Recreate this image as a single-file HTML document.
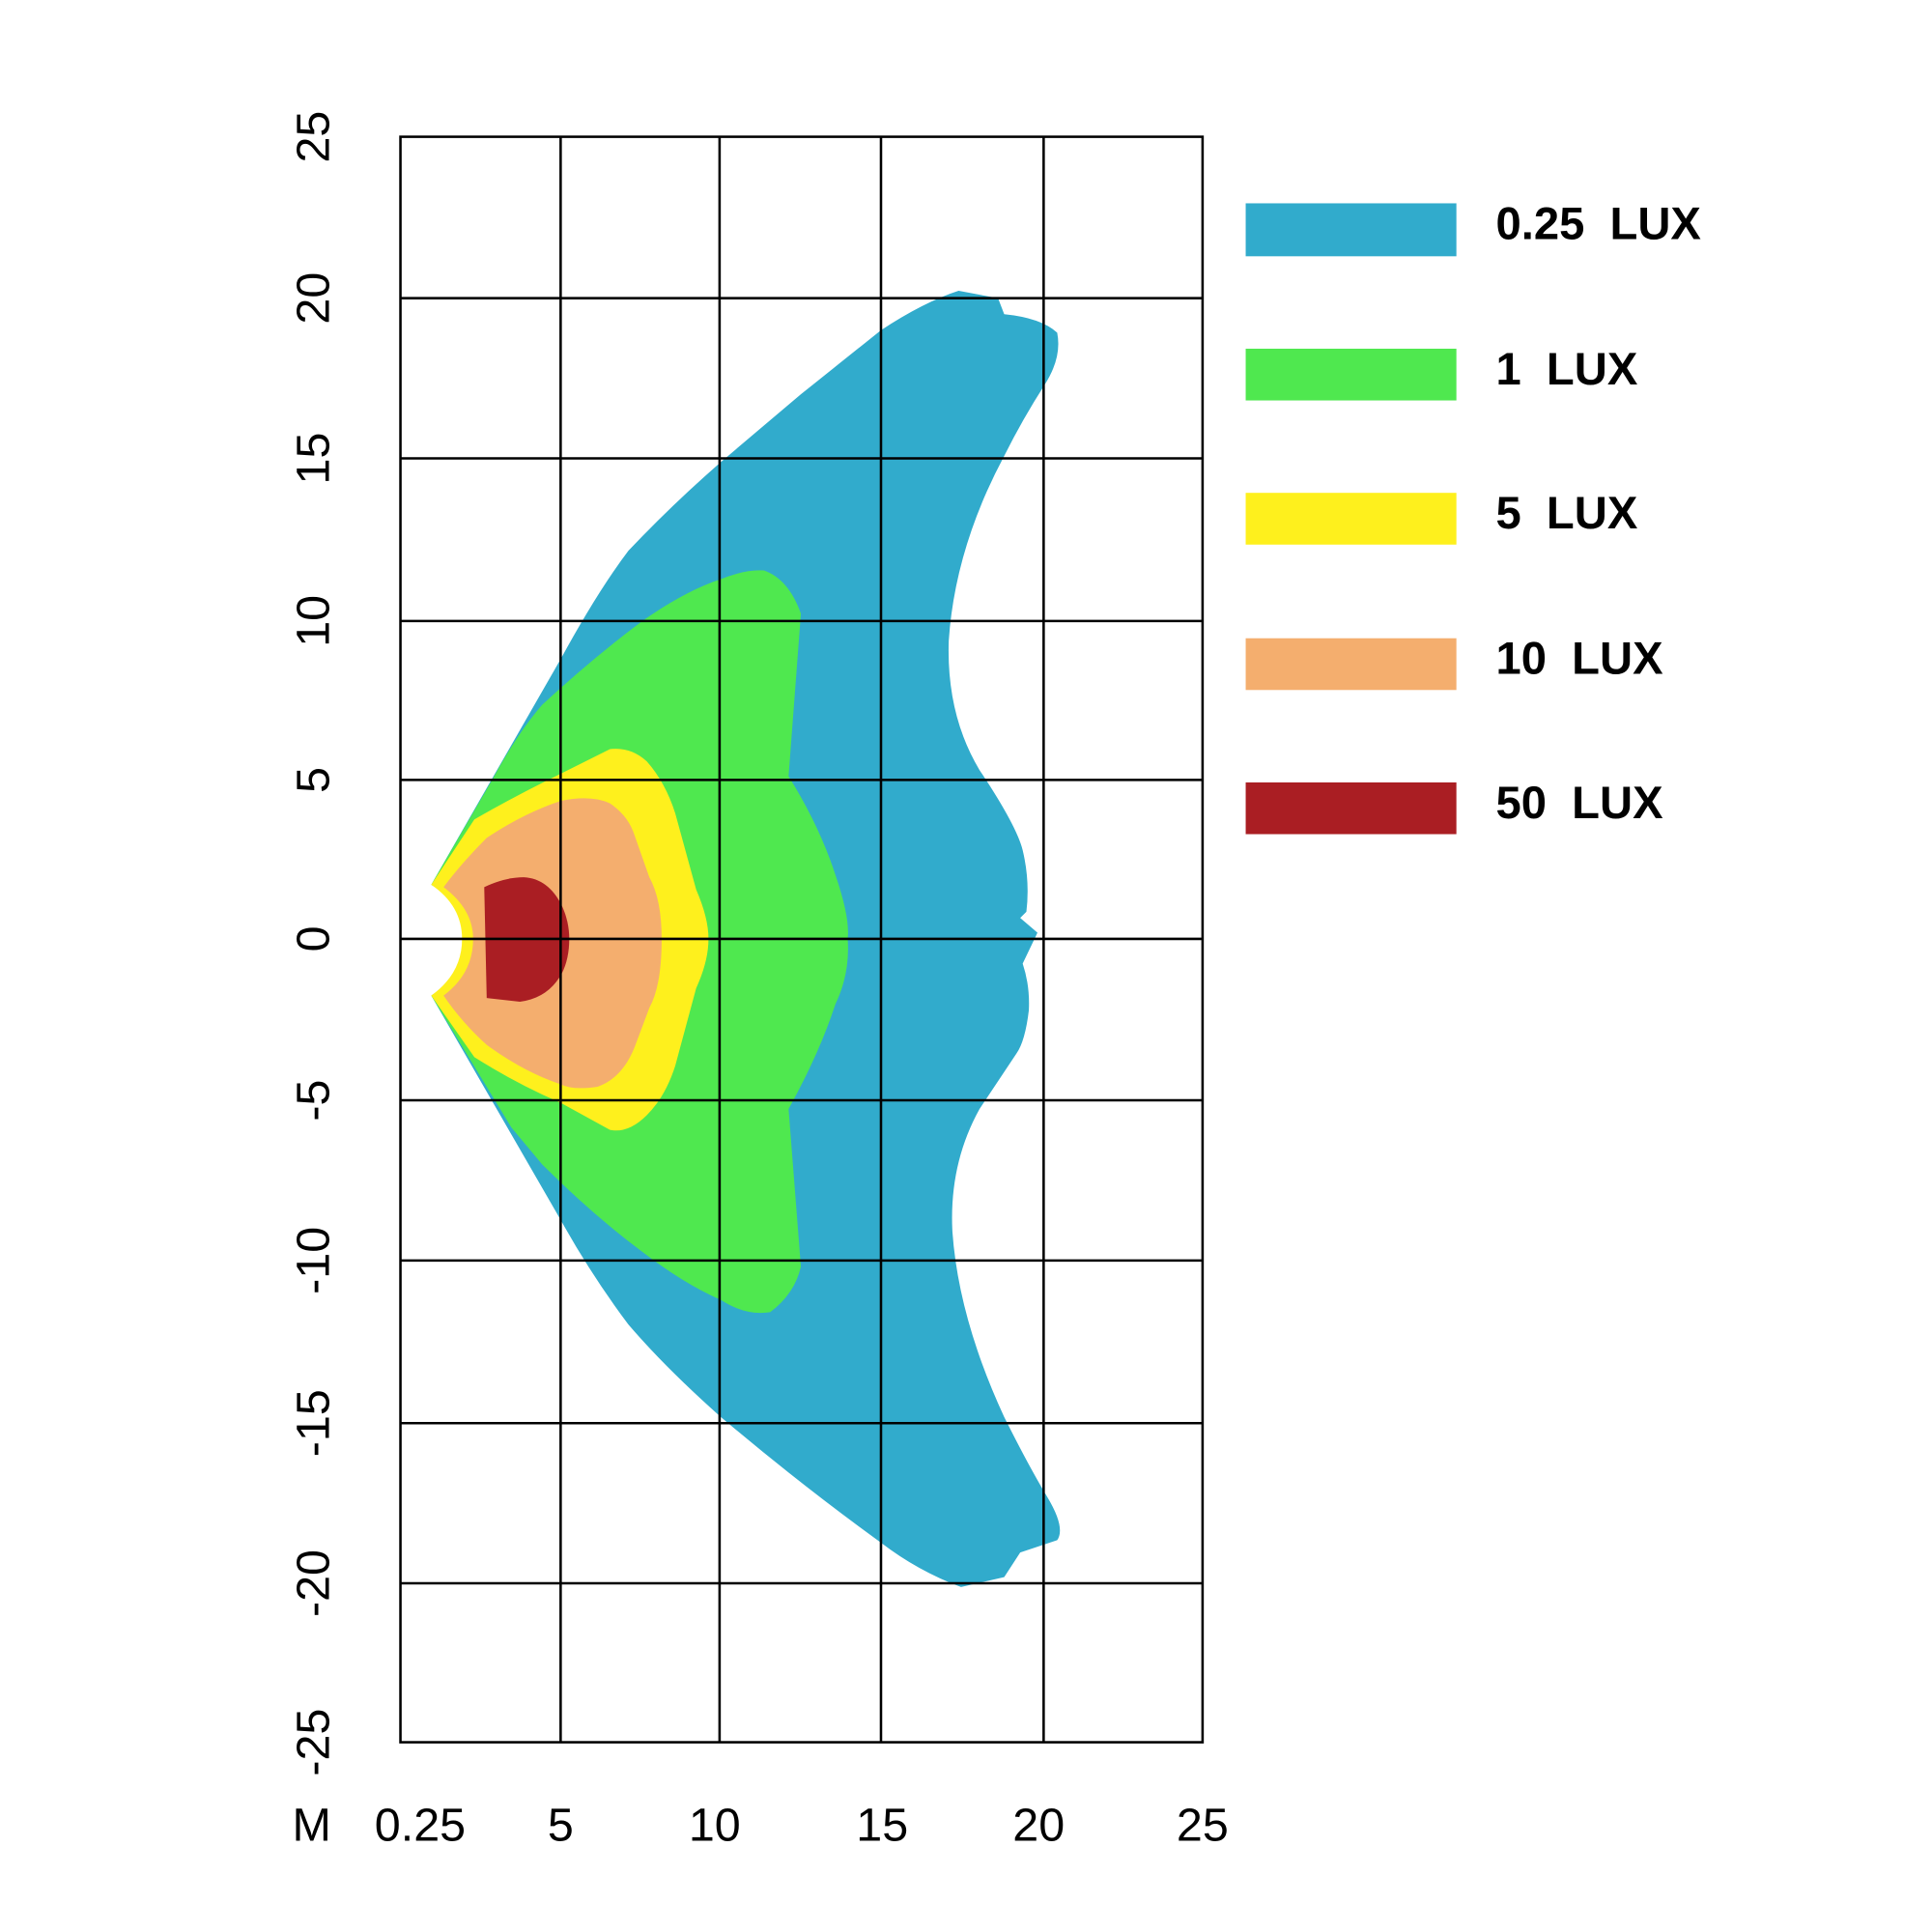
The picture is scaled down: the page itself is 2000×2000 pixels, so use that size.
<!DOCTYPE html>
<html><head><style>body{margin:0;background:#fff}svg{display:block}</style></head><body>
<svg width="2000" height="2000" viewBox="0 0 1568 1568" xmlns="http://www.w3.org/2000/svg" font-family="Liberation Sans, Arial, sans-serif">
<rect width="1568" height="1568" fill="#fff"/>
<path fill="#31abcc" d="M350,718 L455,535 Q485,480 510,447 Q545,410 585,375 L650,320 Q690,288 715,268 Q750,245 778,236 L810,242 L815,255 Q845,258 858,270 Q862,290 848,312 Q830,340 815,370 Q775,445 770,520 Q768,580 795,625 Q825,670 830,690 Q836,715 833,740 L828,745 L842,757 L830,782 Q836,800 835,820 Q832,845 825,855 L795,900 Q770,945 773,1000 Q778,1070 815,1150 Q835,1190 850,1215 Q865,1240 858,1250 L828,1260 L815,1280 L780,1288 Q745,1275 715,1252 Q650,1205 585,1150 Q540,1110 510,1075 Q480,1035 455,990 L350,808 Q383,790 383,762 Q383,735 350,718 Z"/>
<path fill="#4fe84f" d="M350,718 L400,632 Q420,595 440,572 Q480,535 520,505 Q555,480 585,470 Q605,462 620,463 Q640,470 650,498 L640,630 Q665,670 678,710 Q690,745 688,762 Q690,790 678,815 Q665,855 640,900 L650,1028 Q645,1050 625,1065 Q605,1068 585,1055 Q555,1042 520,1015 Q480,985 440,945 L415,915 L350,808 Q378,790 378,762 Q378,735 350,718 Z"/>
<path fill="#fef01d" d="M350,718 L385,665 Q420,645 455,628 L495,608 Q512,606 525,618 Q540,635 548,660 L565,722 Q575,745 575,762 Q575,780 565,802 L548,865 Q540,890 525,905 Q510,920 495,917 L455,895 Q420,880 385,858 L350,808 Q375,790 375,762 Q375,735 350,718 Z"/>
<path fill="#f4ae6e" d="M360,720 Q375,700 395,680 Q425,660 455,650 Q480,645 495,652 Q510,662 515,678 L527,712 Q537,730 537,762 Q537,800 527,818 L515,850 Q505,875 485,882 Q465,885 455,880 Q425,870 395,848 Q375,830 360,808 Q384,790 384,762 Q384,738 360,720 Z"/>
<path fill="#aa1e23" d="M393,720 Q410,712 425,712 Q445,713 456,735 Q462,748 462,762 Q462,778 456,790 Q445,810 422,813 L395,810 Z"/>
<g stroke="#000" stroke-width="2" fill="none">
<rect x="325" y="111" width="651" height="1303"/>
<path d="M455,111V1414M584,111V1414M715,111V1414M847,111V1414M325,242H976M325,372H976M325,504H976M325,633H976M325,762H976M325,893H976M325,1023H976M325,1155H976M325,1285H976"/>
</g>
<g font-size="38" text-anchor="middle" fill="#000">
<text transform="translate(267,111) rotate(-90)">25</text>
<text transform="translate(267,242) rotate(-90)">20</text>
<text transform="translate(267,372) rotate(-90)">15</text>
<text transform="translate(267,504) rotate(-90)">10</text>
<text transform="translate(267,633) rotate(-90)">5</text>
<text transform="translate(267,762) rotate(-90)">0</text>
<text transform="translate(267,893) rotate(-90)">-5</text>
<text transform="translate(267,1023) rotate(-90)">-10</text>
<text transform="translate(267,1155) rotate(-90)">-15</text>
<text transform="translate(267,1285) rotate(-90)">-20</text>
<text transform="translate(267,1414) rotate(-90)">-25</text>
<text x="253" y="1494">M</text>
<text x="341" y="1494">0.25</text>
<text x="455" y="1494">5</text>
<text x="580" y="1494">10</text>
<text x="716" y="1494">15</text>
<text x="843" y="1494">20</text>
<text x="976" y="1494">25</text>
</g>
<rect x="1011" y="165" width="171" height="43" fill="#31abcc"/>
<rect x="1011" y="283" width="171" height="42" fill="#4fe84f"/>
<rect x="1011" y="400" width="171" height="42" fill="#fef01d"/>
<rect x="1011" y="518" width="171" height="42" fill="#f4ae6e"/>
<rect x="1011" y="635" width="171" height="42" fill="#aa1e23"/>
<g font-size="37" font-weight="bold" fill="#000">
<text x="1214" y="194" xml:space="preserve">0.25  LUX</text>
<text x="1214" y="312" xml:space="preserve">1  LUX</text>
<text x="1214" y="429" xml:space="preserve">5  LUX</text>
<text x="1214" y="547" xml:space="preserve">10  LUX</text>
<text x="1214" y="664" xml:space="preserve">50  LUX</text>
</g>
</svg>
</body></html>
